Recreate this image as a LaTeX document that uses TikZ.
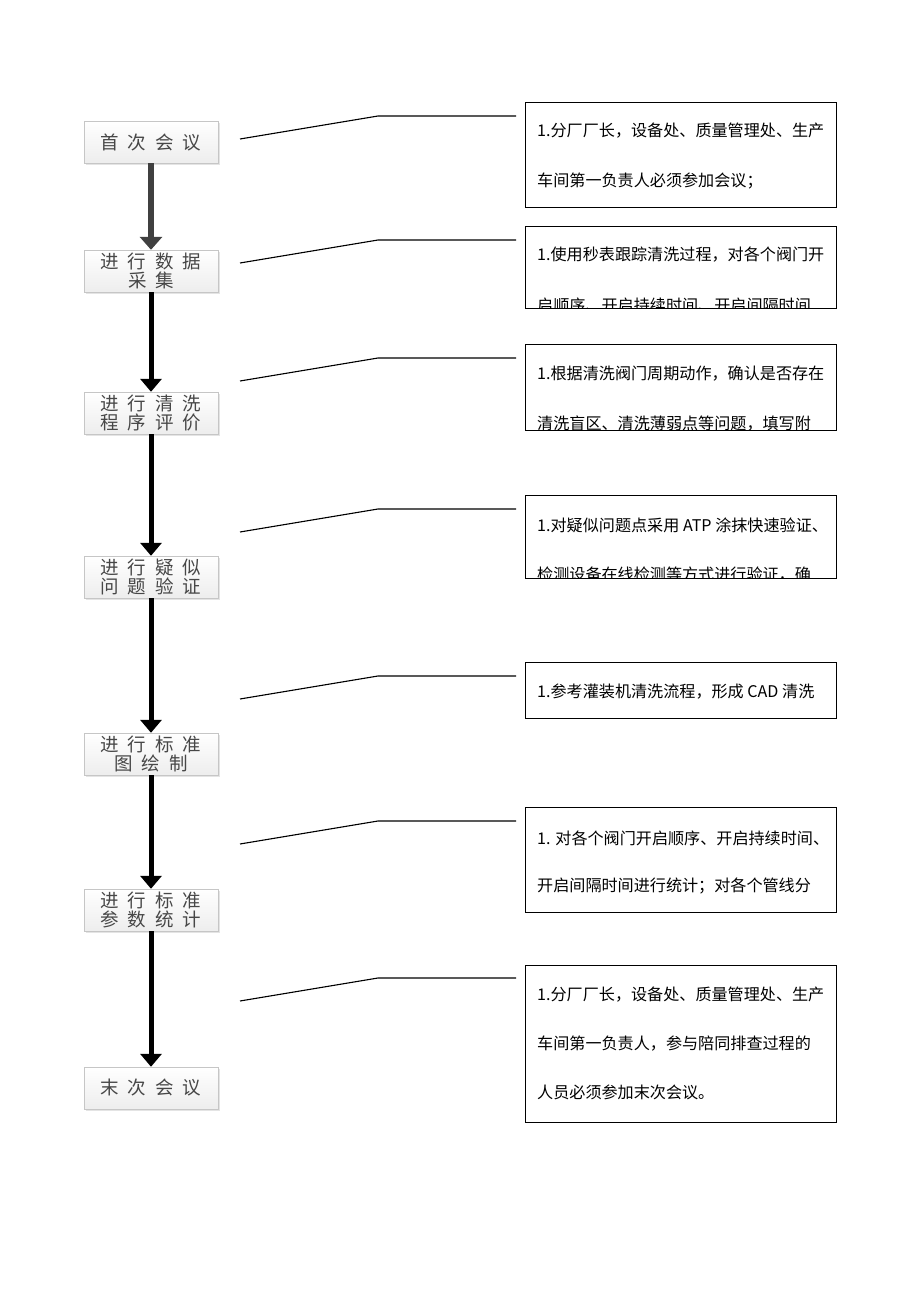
\documentclass[tikz,border=0pt]{standalone}
\usepackage{fontspec}
\setmainfont{Noto Sans CJK SC}
\usetikzlibrary{arrows.meta,shadows}
\newcommand\gp{\hspace{9pt}}
\begin{document}
\begin{tikzpicture}[x=1pt,y=-1pt,
  lbox/.style={draw=gray!45, top color=white, bottom color=gray!14, minimum width=134pt, minimum height=42pt, inner sep=0pt,
     font=\fontsize{18.5}{19.5}\selectfont, text=black!72, align=center,
     drop shadow={shadow xshift=2pt, shadow yshift=-2pt, fill=gray!35, opacity=0.6}},
  rbox/.style={draw=black, line width=1pt, minimum width=311pt, inner sep=0pt, fill=white},
  rtext/.style={anchor=west, inner sep=0pt, font=\fontsize{16.1}{16}\selectfont, text=black},
  arrA/.style={draw=black!75, line width=6pt, -{Triangle[width=22pt,length=13pt]}},
  arrB/.style={draw=black, line width=5pt, -{Triangle[width=21pt,length=13pt]}},
  conn/.style={draw=black, line width=1.1pt}
]
\useasboundingbox (0,0) rectangle (920,1302);
\fill[white] (0,0) rectangle (920,1302);

% left flow boxes
\node[lbox] (l1) at (151,142) {首\gp 次\gp 会\gp 议};
\node[lbox] (l2) at (151,271) {进\gp 行\gp 数\gp 据\\采\gp 集};
\node[lbox] (l3) at (151,413) {进\gp 行\gp 清\gp 洗\\程\gp 序\gp 评\gp 价};
\node[lbox] (l4) at (151,577) {进\gp 行\gp 疑\gp 似\\问\gp 题\gp 验\gp 证};
\node[lbox] (l5) at (151,754) {进\gp 行\gp 标\gp 准\\图\gp 绘\gp 制};
\node[lbox] (l6) at (151,910) {进\gp 行\gp 标\gp 准\\参\gp 数\gp 统\gp 计};
\node[lbox] (l7) at (151,1088) {末\gp 次\gp 会\gp 议};

% arrows
\draw[arrA] (l1.south) -- (l2.north);
\draw[arrB] (l2.south) -- (l3.north);
\draw[arrB] (l3.south) -- (l4.north);
\draw[arrB] (l4.south) -- (l5.north);
\draw[arrB] (l5.south) -- (l6.north);
\draw[arrB] (l6.south) -- (l7.north);

% right boxes
\node[rbox, minimum height=105pt] (r1) at (680.5,154.5) {};
\node[rbox, minimum height=82pt]  (r2) at (680.5,267) {};
\node[rbox, minimum height=86pt]  (r3) at (680.5,387) {};
\node[rbox, minimum height=83pt]  (r4) at (680.5,536.5) {};
\node[rbox, minimum height=56pt]  (r5) at (680.5,690) {};
\node[rbox, minimum height=105pt] (r6) at (680.5,859.5) {};
\node[rbox, minimum height=157pt] (r7) at (680.5,1043.5) {};

% texts (clipped to boxes)
\begin{scope}
\clip (r1.south west) rectangle (r1.north east);
\node[rtext] (t11) at (537,131) {1.分厂厂长，设备处、质量管理处、生产};
\node[rtext] (t12) at (537,181) {车间第一负责人必须参加会议；};
\end{scope}
\begin{scope}
\clip (r2.south west) rectangle (r2.north east);
\node[rtext] (t21) at (537,255) {1.使用秒表跟踪清洗过程，对各个阀门开};
\node[rtext] (t22) at (537,305) {启顺序、开启持续时间、开启间隔时间};
\end{scope}
\begin{scope}
\clip (r3.south west) rectangle (r3.north east);
\node[rtext] (t31) at (537,374) {1.根据清洗阀门周期动作，确认是否存在};
\node[rtext] (t32) at (537,424) {清洗盲区、清洗薄弱点等问题，填写附};
\end{scope}
\begin{scope}
\clip (r4.south west) rectangle (r4.north east);
\node[rtext] (t41) at (537,525) {1.对疑似问题点采用 ATP 涂抹快速验证、};
\node[rtext] (t42) at (537,575) {检测设备在线检测等方式进行验证，确};
\end{scope}
\begin{scope}
\clip (r5.south west) rectangle (r5.north east);
\node[rtext] (t51) at (537,692) {1.参考灌装机清洗流程，形成 CAD 清洗};
\end{scope}
\begin{scope}
\clip (r6.south west) rectangle (r6.north east);
\node[rtext] (t61) at (537,838) {1. 对各个阀门开启顺序、开启持续时间、};
\node[rtext] (t62) at (537,886) {开启间隔时间进行统计；对各个管线分};
\end{scope}
\begin{scope}
\clip (r7.south west) rectangle (r7.north east);
\node[rtext] (t71) at (537,995) {1.分厂厂长，设备处、质量管理处、生产};
\node[rtext] (t72) at (537,1044) {车间第一负责人，参与陪同排查过程的};
\node[rtext] (t73) at (537,1092) {人员必须参加末次会议。};
\end{scope}

% connectors
\coordinate (a1) at (240,139);  \coordinate (k1) at (378,116);  \coordinate (e1) at (516,116);
\coordinate (a2) at (240,263);  \coordinate (k2) at (378,240);  \coordinate (e2) at (516,240);
\coordinate (a3) at (240,381);  \coordinate (k3) at (378,358);  \coordinate (e3) at (516,358);
\coordinate (a4) at (240,532);  \coordinate (k4) at (378,509);  \coordinate (e4) at (516,509);
\coordinate (a5) at (240,699);  \coordinate (k5) at (378,676);  \coordinate (e5) at (516,676);
\coordinate (a6) at (240,844);  \coordinate (k6) at (378,821);  \coordinate (e6) at (516,821);
\coordinate (a7) at (240,1001); \coordinate (k7) at (378,978);  \coordinate (e7) at (516,978);
\foreach \i in {1,...,7} { \draw[conn] (a\i) -- (k\i) -- (e\i); }
\end{tikzpicture}
\end{document}
